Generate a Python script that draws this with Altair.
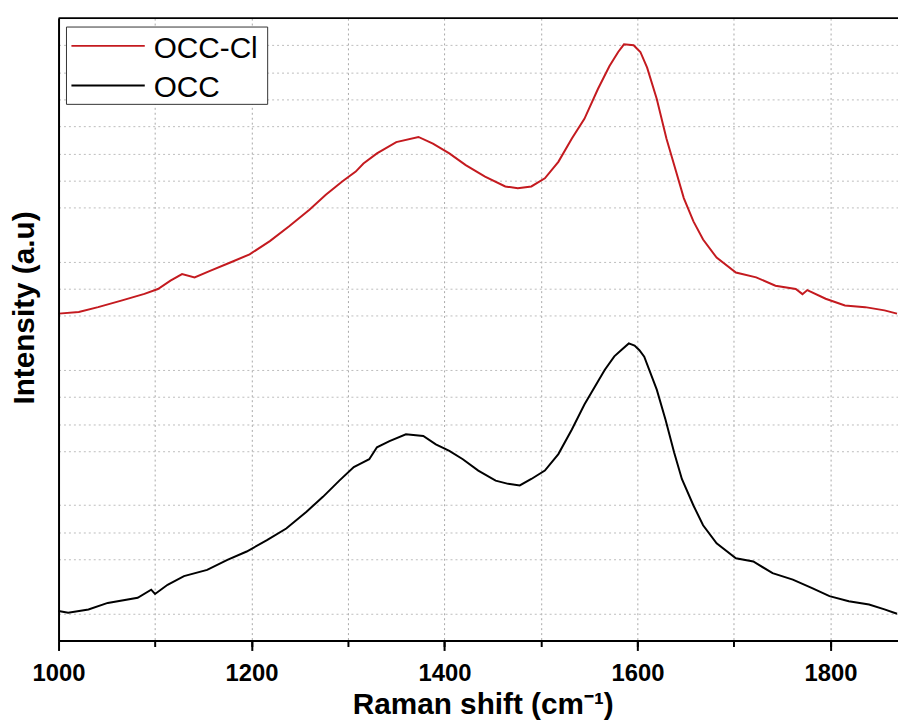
import altair as alt
import pandas as pd

# ---- data ----
series_names = ["OCC-Cl", "OCC"]
series_colors = ["#c41a1f", "#000000"]

occcl_shift = [1000, 1021, 1041, 1065, 1089, 1103, 1116, 1128, 1141, 1157, 1178, 1198,
               1219, 1239, 1260, 1277, 1294, 1308, 1316, 1330, 1350, 1373, 1388, 1405,
               1422, 1442, 1463, 1476, 1490, 1504, 1518, 1532, 1545, 1559, 1571, 1580,
               1586, 1596, 1603, 1610, 1620, 1630, 1640, 1648, 1658, 1668, 1682, 1702,
               1723, 1743, 1764, 1771, 1776, 1795, 1815, 1836, 1856, 1869]
occcl_int = [12.08, 12.14, 12.32, 12.56, 12.81, 12.99, 13.30, 13.54, 13.42, 13.66, 13.97, 14.27,
             14.76, 15.31, 15.92, 16.47, 16.96, 17.33, 17.63, 18.00, 18.42, 18.61, 18.36, 18.00,
             17.57, 17.14, 16.78, 16.71, 16.78, 17.08, 17.69, 18.55, 19.28, 20.38, 21.23, 21.75,
             22.03, 22.00, 21.75, 21.17, 20.01, 18.55, 17.33, 16.35, 15.49, 14.82, 14.15, 13.60,
             13.42, 13.11, 12.99, 12.80, 12.95, 12.63, 12.38, 12.32, 12.20, 12.08]

occ_shift = [1000, 1010, 1031, 1051, 1082, 1096, 1100, 1113, 1130, 1154, 1175, 1195,
             1216, 1236, 1257, 1274, 1291, 1306, 1312, 1322, 1330, 1343, 1360, 1378,
             1391, 1405, 1419, 1435, 1453, 1466, 1478, 1490, 1504, 1518, 1532, 1545,
             1559, 1566, 1576, 1583, 1591, 1597, 1602, 1607, 1620, 1629, 1638, 1646, 1658,
             1668, 1682, 1702, 1720, 1740, 1761, 1781, 1799, 1819, 1840, 1856, 1869]
occ_int = [1.09, 1.03, 1.15, 1.39, 1.58, 1.88, 1.72, 2.06, 2.38, 2.61, 2.98, 3.29,
           3.71, 4.14, 4.76, 5.31, 5.91, 6.41, 6.52, 6.70, 7.14, 7.37, 7.62, 7.56,
           7.25, 7.01, 6.70, 6.28, 5.91, 5.79, 5.73, 5.97, 6.28, 6.89, 7.80, 8.72,
           9.57, 10.00, 10.50, 10.73, 10.98, 10.90, 10.73, 10.49, 9.27, 8.17, 6.95, 5.97, 4.99,
           4.26, 3.59, 3.04, 2.92, 2.49, 2.25, 1.94, 1.64, 1.45, 1.33, 1.15, 0.99]

x_label_ticks = [1000, 1200, 1400, 1600, 1800]
x_grid_ticks = [1100, 1200, 1300, 1400, 1500, 1600, 1700, 1800]
y_grid_ticks = [1, 3, 4, 5, 7, 8, 9, 10, 12, 13, 14, 16, 17, 18, 19, 20, 21, 22]

x_title = "Raman shift (cm\u207b\u00b9)"
y_title = "Intensity (a.u)"

# ---- tables ----
df = pd.concat([
    pd.DataFrame({"series": series_names[0], "shift": occcl_shift, "intensity": occcl_int,
                  "idx": range(len(occcl_shift))}),
    pd.DataFrame({"series": series_names[1], "shift": occ_shift, "intensity": occ_int,
                  "idx": range(len(occ_shift))}),
], ignore_index=True)
legend_df = pd.DataFrame({"series": series_names, "color": series_colors})

W, H = 847, 628
FONT = "Liberation Sans"
x_scale = alt.Scale(domain=[1000, 1870], nice=False, zero=False)
y_scale = alt.Scale(domain=[0, 23], nice=False, zero=False)

grid_layer = alt.Chart(df).mark_line(opacity=0).encode(
    x=alt.X("shift:Q", scale=x_scale,
            axis=alt.Axis(orient="bottom", values=x_grid_ticks, grid=True, gridDash=[2, 3],
                          gridColor="#a8a8a8", gridWidth=1, labels=False, ticks=True,
                          tickSize=6, tickWidth=2, tickColor="black", domain=False, title=None)),
    y=alt.Y("intensity:Q", scale=y_scale,
            axis=alt.Axis(orient="left", values=y_grid_ticks, grid=True, gridDash=[2, 3],
                          gridColor="#bcbcbc", gridWidth=1, labels=False, ticks=False,
                          domain=False, title=None)),
    detail="series:N",
)

lines = alt.Chart(df).mark_line(strokeWidth=2).encode(
    x=alt.X("shift:Q", scale=x_scale,
            axis=alt.Axis(orient="bottom", values=x_label_ticks, format="d", grid=False,
                          tickSize=10, tickWidth=2, tickColor="black",
                          domainWidth=2, domainColor="black",
                          labelFont=FONT, labelFontSize=24, labelFontWeight="bold",
                          labelColor="black", labelPadding=11, labelFlush=False,
                          labelOverlap=False,
                          title=x_title, titleFont=FONT, titleFontSize=30,
                          titleFontWeight="bold", titleColor="black",
                          titleX=428, titleY=74, titleAlign="center",
                          titleBaseline="alphabetic", zindex=1)),
    y=alt.Y("intensity:Q", scale=y_scale,
            axis=alt.Axis(orient="left", grid=False, labels=False, ticks=False,
                          domainWidth=2, domainColor="black",
                          title=y_title, titleFont=FONT, titleFontSize=30,
                          titleFontWeight="bold", titleColor="black",
                          titleX=-25, titleY=292, titleAlign="center",
                          titleBaseline="alphabetic", titleAngle=270, zindex=1)),
    color=alt.Color("series:N", scale=alt.Scale(domain=series_names, range=series_colors),
                    legend=None),
    order="idx:Q",
)

top_border = alt.Chart(legend_df.head(1)).mark_rule(color="black", strokeWidth=2).encode(
    x=alt.value(0), x2=alt.value(W), y=alt.value(0)
)

# manual legend (box, line samples, labels)
legend_box = alt.Chart(legend_df.head(1)).mark_rect(
    fill="white", stroke="#333333", strokeWidth=1
).encode(x=alt.value(8), x2=alt.value(211), y=alt.value(9), y2=alt.value(87))

legend_layers = [legend_box]
row0, row_gap = 28, 40
for i, (name, col) in enumerate(zip(series_names, series_colors)):
    sub = legend_df[legend_df["series"] == name]
    ry = row0 + i * row_gap
    legend_layers.append(
        alt.Chart(sub).mark_rule(color=col, strokeWidth=2).encode(
            x=alt.value(13), x2=alt.value(87), y=alt.value(ry))
    )
    legend_layers.append(
        alt.Chart(sub).mark_text(align="left", baseline="alphabetic", font=FONT,
                                 fontSize=30, color="black").encode(
            x=alt.value(96), y=alt.value(ry + 12), text="series:N")
    )

chart = alt.layer(grid_layer, lines, top_border, *legend_layers).resolve_axis(
    x="independent", y="independent"
).properties(
    width=W, height=H,
    autosize=alt.AutoSizeParams(type="none"),
    padding={"left": 51, "top": 7, "right": 0, "bottom": 81},
).configure_view(stroke=None).configure(background="white")

chart.save("out.html", embed_options={"renderer": "svg", "actions": False})
